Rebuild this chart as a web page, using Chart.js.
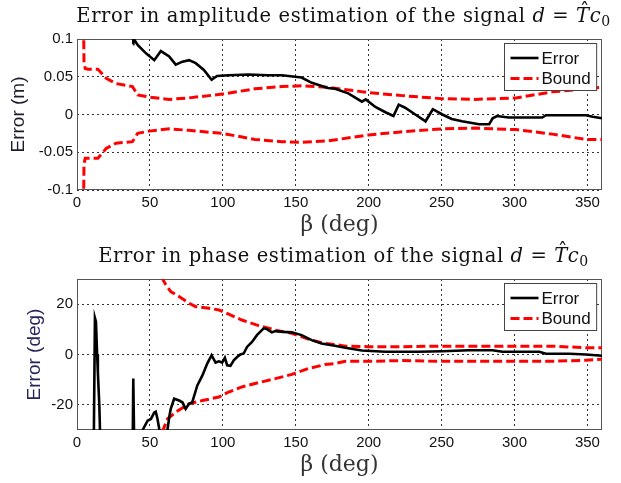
<!doctype html>
<html>
<head>
<script src="https://cdn.jsdelivr.net/npm/chart.js@4.4.0/dist/chart.umd.min.js"></script>
<style>
  body { margin: 0; background: #fff; }
  .panel { position: absolute; left: 0; width: 621px; height: 240px; }
</style>
</head>
<body>
<div class="panel" style="top:0"><canvas id="amp" width="621" height="240"></canvas></div>
<div class="panel" style="top:240px"><canvas id="phase" width="621" height="240"></canvas></div>
<script>
// ---- data ----
const betaTicks = [0, 50, 100, 150, 200, 250, 300, 350];
const ampTicks = [-0.1, -0.05, 0, 0.05, 0.1];
const phaseTicks = [-20, 0, 20];

// amplitude: error curve
const ampErrBeta = [38.5, 38.6, 41.6, 47.3, 53, 57.5, 63.2, 67.7, 72.3, 76.8, 81.4, 87, 92.3, 96, 104, 117.7, 131, 140.5, 149.5, 154, 161, 172, 177, 186, 195.4, 198, 204.6, 211.5, 217, 220.6, 225, 232, 239, 244, 250.5, 257, 264, 275.7, 282.6, 285, 288, 296, 305.5, 319, 321.6, 333, 349, 353.7, 360];
const ampErr = [0.093, 0.101, 0.092, 0.081, 0.072, 0.084, 0.077, 0.066, 0.070, 0.072, 0.068, 0.059, 0.046, 0.051, 0.052, 0.053, 0.052, 0.052, 0.050, 0.049, 0.042, 0.035, 0.034, 0.028, 0.017, 0.020, 0.010, 0.003, -0.002, 0.013, 0.009, 0, -0.009, 0.007, 0, -0.006, -0.009, -0.013, -0.013, -0.005, -0.002, -0.004, -0.004, -0.004, -0.001, -0.001, -0.001, -0.003, -0.005];

// amplitude: bound (upper / lower)
const ampBoundBeta = [4.3, 4.8, 5.6, 7.5, 14.3, 20, 26.8, 38, 41.6, 49.5, 63.2, 76.8, 99.5, 122, 140.5, 154, 172, 200, 223, 250, 273, 301, 326, 349, 360];
const ampBoundUp = [0.15, 0.07, 0.061, 0.060, 0.060, 0.048, 0.041, 0.037, 0.026, 0.023, 0.020, 0.022, 0.027, 0.034, 0.037, 0.038, 0.036, 0.029, 0.025, 0.021, 0.020, 0.022, 0.030, 0.034, 0.036];
const ampBoundLo = [-0.15, -0.066, -0.058, -0.058, -0.058, -0.045, -0.038, -0.036, -0.025, -0.022, -0.019, -0.021, -0.025, -0.033, -0.036, -0.037, -0.035, -0.027, -0.023, -0.019, -0.018, -0.020, -0.026, -0.033, -0.033];

// phase: error curve (values below -30 fall off the plot)
const phaseErrBeta = [11.5, 12.3, 13, 13.8, 14.3, 15.3, 16, 38.2, 38.6, 39.2, 44.5, 45, 48.4, 50.7, 53, 54, 55.2, 56.4, 58, 62, 63.5, 64.3, 66.6, 70, 72.3, 74.5, 76.8, 79, 82.5, 86, 89.3, 92.3, 95, 97.3, 99.5, 101.4, 103, 105.2, 107.5, 109.8, 112, 114.3, 116.6, 120, 123.4, 128, 130.2, 133.6, 136, 141.6, 147.3, 154, 160.9, 167.7, 176.8, 184, 195.4, 211.5, 234, 250.5, 268.8, 284.9, 291.7, 301, 317, 321.6, 337.6, 349, 360];
const phaseErr = [-35, 14.5, 13, 0, -7, -20, -35, -35, -9.5, -35, -35, -30, -26.3, -25.6, -23, -22.7, -25.6, -29.6, -33, -30, -24, -21.6, -17.6, -18.3, -19, -21.6, -19.6, -19, -12.3, -8.3, -3.6, -0.3, -3.2, -2.7, -3.2, -1.3, -4.3, -4.5, -2.3, -1, 0, 0.4, 3, 5, 7.7, 10.4, 10.1, 8.8, 9.3, 9, 8.8, 7.7, 5.7, 4.4, 3.5, 2.7, 1.6, 1.1, 1.1, 1.3, 1.7, 1.7, 1.1, 1.1, 1.1, 0.3, 0.3, 0, -0.5];

// phase: bound
const phaseUpBeta = [57.5, 58.6, 60.9, 64.3, 70, 76.8, 81.4, 90.5, 97.3, 104, 113, 124.5, 136, 147.3, 158.6, 170, 177, 184, 200, 223, 245.9, 268.8, 301, 326, 349, 360];
const phaseBoundUp = [36, 30.1, 27.7, 25, 23, 20.4, 19, 18.4, 17.7, 16, 13.7, 11.5, 9.7, 8.4, 6.1, 4.4, 4, 3.3, 3.1, 3.1, 3.3, 3.3, 3.3, 3.3, 2.7, 2.7];
const phaseLoBeta = [57.5, 59, 62, 67.7, 76.8, 86, 97.3, 104, 113, 124.5, 136, 147.3, 158.6, 170, 177, 184, 200, 223, 246, 268.8, 301, 326, 349, 360];
const phaseBoundLo = [-36, -30, -25.6, -22.9, -19.6, -18.3, -16.9, -14.9, -12.9, -11.2, -9.6, -7.9, -5.6, -4, -3.6, -2.7, -2.7, -2.4, -2.7, -2.7, -2.7, -2.7, -2.3, -1.9];

const pts = (xs, ys) => xs.map((x, i) => ({x: x, y: ys[i]}));

const sans = "'Liberation Sans', Arial, sans-serif";
const serif = "'DejaVu Serif', serif";

// solid box round the axes
const framePlugin = {
  id: 'frame',
  beforeDatasetsDraw(chart) {
    const a = chart.chartArea, ctx = chart.ctx;
    ctx.save();
    ctx.strokeStyle = '#555';
    ctx.lineWidth = 1;
    ctx.strokeRect(Math.round(a.left) + 0.5, Math.round(a.top) + 0.5, Math.round(a.width) - 1, Math.round(a.height) - 1);
    ctx.restore();
  }
};

// title with the math part "d = T^c0"
const headingPlugin = {
  id: 'heading',
  afterDraw(chart, args, opts) {
    const ctx = chart.ctx, a = chart.chartArea;
    const s = opts.size;
    const parts = [
      {t: opts.text, f: `${s}px ${serif}`},
      {t: 'd', f: `italic ${s}px ${serif}`},
      {t: ' = ', f: `${s}px ${serif}`},
      {t: 'T', f: `italic ${s}px ${serif}`, hat: true},
      {t: 'c', f: `italic ${s}px ${serif}`},
      {t: '0', f: `${Math.round(s * 0.7)}px ${serif}`, dy: s * 0.22}
    ];
    ctx.save();
    ctx.letterSpacing = opts.spacing + 'px';
    let w = 0;
    parts.forEach(p => { ctx.font = p.f; p.w = ctx.measureText(p.t).width; w += p.w; });
    let x = (a.left + a.right) / 2 + opts.shift - w / 2;
    ctx.fillStyle = '#111';
    ctx.textBaseline = 'alphabetic';
    parts.forEach(p => {
      ctx.font = p.f;
      ctx.fillText(p.t, x, opts.y + (p.dy || 0));
      if (p.hat) {
        ctx.textAlign = 'center';
        ctx.font = `${s}px ${serif}`;
        ctx.fillText('\u02C6', x + p.w / 2 + 2, opts.y - 4);
        ctx.textAlign = 'left';
      }
      x += p.w;
    });
    ctx.restore();
  }
};

// boxed legend in the upper right corner of the axes
const boxLegendPlugin = {
  id: 'boxLegend',
  afterDraw(chart) {
    const ctx = chart.ctx, a = chart.chartArea;
    const seen = {};
    const items = chart.data.datasets.filter(d => d.label && !seen[d.label] && (seen[d.label] = true));
    ctx.save();
    ctx.font = `17px ${sans}`;
    const tw = Math.max(...items.map(d => ctx.measureText(d.label).width));
    const bw = 37 + tw + 6, bh = 47;
    const bx = Math.round(a.right - 6 - bw) + 0.5, by = Math.round(a.top + 4) + 0.5;
    ctx.fillStyle = '#fff';
    ctx.fillRect(bx, by, bw, bh);
    ctx.strokeStyle = '#444';
    ctx.lineWidth = 1;
    ctx.strokeRect(bx, by, bw, bh);
    items.forEach((d, i) => {
      const cy = by + 14.5 + i * 20.6;
      ctx.beginPath();
      ctx.strokeStyle = d.borderColor;
      ctx.lineWidth = d.borderWidth;
      ctx.setLineDash(d.borderDash || []);
      ctx.moveTo(bx + 6, cy);
      ctx.lineTo(bx + 34, cy);
      ctx.stroke();
      ctx.setLineDash([]);
      ctx.fillStyle = '#111';
      ctx.textBaseline = 'middle';
      ctx.fillText(d.label, bx + 37, cy + 1);
    });
    ctx.restore();
  }
};

function errSet(data) {
  return {label: 'Error', data: data, borderColor: '#000', borderWidth: 2.6,
          pointRadius: 0, tension: 0, clip: 0};
}
function boundSet(data) {
  return {label: 'Bound', data: data, borderColor: '#ff0000', borderWidth: 3,
          borderDash: [9, 4], pointRadius: 0, tension: 0, clip: 0};
}

function makeChart(id, datasets, yTicks, yTitle, yColor, yTitlePad, title) {
  const half = yTicks.length === 3 ? (yTicks[1] - yTicks[0]) / 2 : 0;
  return new Chart(document.getElementById(id).getContext('2d'), {
    type: 'line',
    data: {datasets: datasets},
    plugins: [framePlugin, headingPlugin, boxLegendPlugin],
    options: {
      responsive: false,
      animation: false,
      layout: {padding: {top: 39, right: 19, left: 0, bottom: 0}},
      plugins: {
        legend: {display: false},
        title: {display: false},
        tooltip: {enabled: false},
        heading: {text: title, size: 19.5, spacing: 0.6, y: 22, shift: 4}
      },
      scales: {
        x: {
          type: 'linear', min: 0, max: 360,
          afterBuildTicks: s => { s.ticks = betaTicks.map(v => ({value: v})); },
          afterFit: s => { s.height = 50; },
          grid: {color: '#333', lineWidth: 1, drawTicks: false},
          border: {display: false, dash: [2, 3]},
          ticks: {color: '#111', font: {family: sans, size: 15}, padding: 4, maxRotation: 0},
          title: {display: true, text: '\u03B2 (deg)', color: '#333',
                  font: {family: serif, size: 22}, padding: {top: 0, bottom: 2}}
        },
        y: {
          type: 'linear', min: yTicks[0] - half, max: yTicks[yTicks.length - 1] + half,
          afterBuildTicks: s => { s.ticks = yTicks.map(v => ({value: v})); },
          afterFit: s => { s.width = 77; },
          grid: {color: '#333', lineWidth: 1, drawTicks: false},
          border: {display: false, dash: [2, 3]},
          ticks: {color: '#111', font: {family: sans, size: 15}, padding: 4,
                  callback: v => String(v)},
          title: {display: true, text: yTitle, color: yColor,
                  font: {family: sans, size: 19}, padding: {top: yTitlePad, bottom: 0}}
        }
      }
    }
  });
}

makeChart('amp', [
  errSet(pts(ampErrBeta, ampErr)),
  boundSet(pts(ampBoundBeta, ampBoundUp)),
  boundSet(pts(ampBoundBeta, ampBoundLo))
], ampTicks, 'Error (m)', '#1c1c30', 7, 'Error in amplitude estimation of the signal ');

makeChart('phase', [
  errSet(pts(phaseErrBeta, phaseErr)),
  boundSet(pts(phaseUpBeta, phaseBoundUp)),
  boundSet(pts(phaseLoBeta, phaseBoundLo))
], phaseTicks, 'Error (deg)', '#26265a', 23, 'Error in phase estimation of the signal ');
</script>
</body>
</html>
